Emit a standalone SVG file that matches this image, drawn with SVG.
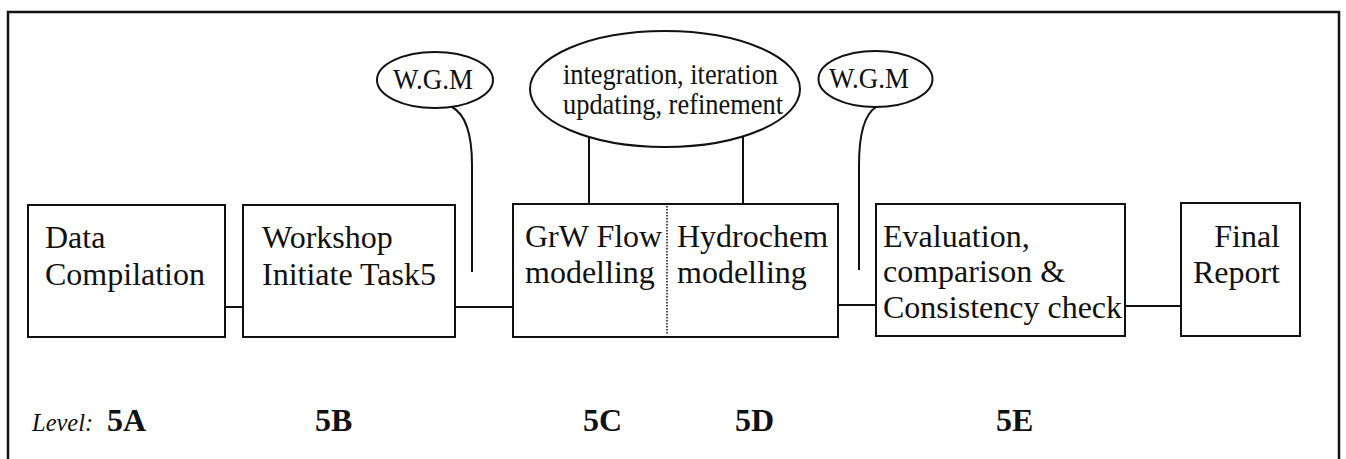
<svg xmlns="http://www.w3.org/2000/svg" width="1346" height="459" viewBox="0 0 1346 459">
<style>
.box{fill:#fff;stroke:#111;stroke-width:2}
.ell{fill:#fff;stroke:#111;stroke-width:2}
.con{fill:none;stroke:#111;stroke-width:2}
.frame{fill:none;stroke:#111;stroke-width:2.5}
text{font-family:"Liberation Serif","Times New Roman",serif;fill:#111}
.t{font-size:32px}
.e{font-size:29px}
.lv{font-size:32px;font-weight:bold}
.it{font-size:24.5px;font-style:italic}
</style>
<rect class="frame" x="8" y="12" width="1331" height="470"/>
<g id="connectors">
<line class="con" x1="225" y1="307" x2="243" y2="307"/>
<line class="con" x1="455" y1="307" x2="513" y2="307"/>
<line class="con" x1="838" y1="305" x2="876" y2="305"/>
<line class="con" x1="1125" y1="306" x2="1181" y2="306"/>
<path class="con" d="M452 107 Q472 118 472 165 L472 272"/>
<path class="con" d="M876 107 Q859 118 859 165 L859 270"/>
<line class="con" x1="589" y1="126" x2="589" y2="204"/>
<line class="con" x1="743" y1="126" x2="743" y2="204"/>
</g>
<g id="wgm1">
<ellipse class="ell" cx="435" cy="80" rx="58" ry="28"/>
<text class="e" x="393" y="89" textLength="80" lengthAdjust="spacingAndGlyphs">W.G.M</text>
</g>
<g id="iter">
<ellipse class="ell" cx="665" cy="89" rx="135" ry="58"/>
<text class="e" x="563" y="84" textLength="215" lengthAdjust="spacingAndGlyphs">integration, iteration</text>
<text class="e" x="563" y="114" textLength="220" lengthAdjust="spacingAndGlyphs">updating, refinement</text>
</g>
<g id="wgm2">
<ellipse class="ell" cx="875.5" cy="79" rx="57" ry="28"/>
<text class="e" x="829" y="88" textLength="80" lengthAdjust="spacingAndGlyphs">W.G.M</text>
</g>
<g id="data">
<rect class="box" x="28" y="205" width="197" height="132"/>
<text class="t" x="45" y="248">Data</text>
<text class="t" x="45" y="285">Compilation</text>
</g>
<g id="workshop">
<rect class="box" x="243" y="205" width="212" height="132"/>
<text class="t" x="262" y="248">Workshop</text>
<text class="t" x="262" y="285">Initiate Task5</text>
</g>
<g id="modelling">
<rect class="box" x="513" y="204" width="325" height="133"/>
<line x1="667" y1="206" x2="667" y2="335" stroke="#111" stroke-width="1.5" stroke-dasharray="1.5,1.5"/>
<text class="t" x="525" y="247">GrW Flow</text>
<text class="t" x="525" y="283">modelling</text>
<text class="t" x="677" y="247">Hydrochem</text>
<text class="t" x="677" y="283">modelling</text>
</g>
<g id="evaluation">
<rect class="box" x="876" y="204" width="249" height="132"/>
<text class="t" x="883" y="247">Evaluation,</text>
<text class="t" x="883" y="282">comparison &amp;</text>
<text class="t" x="883" y="318">Consistency check</text>
</g>
<g id="final">
<rect class="box" x="1181" y="203" width="119" height="133"/>
<text class="t" x="1280" y="247" text-anchor="end">Final</text>
<text class="t" x="1280" y="283" text-anchor="end">Report</text>
</g>
<g id="levels">
<text class="it" x="32" y="431">Level:</text>
<text class="lv" x="107" y="431">5A</text>
<text class="lv" x="315" y="431">5B</text>
<text class="lv" x="583" y="431">5C</text>
<text class="lv" x="735" y="431">5D</text>
<text class="lv" x="996" y="431">5E</text>
</g>
</svg>
